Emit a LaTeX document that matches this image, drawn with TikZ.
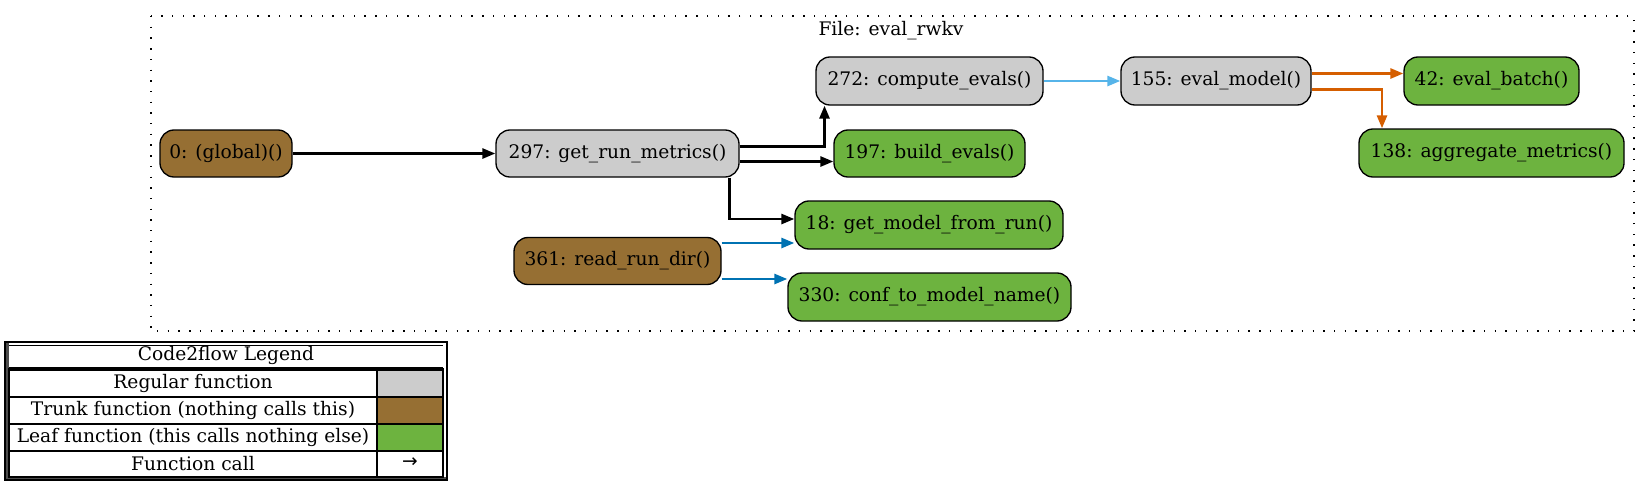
\documentclass[tikz,border=0pt]{standalone}
\usepackage{fontspec}
\setmainfont{DejaVu Serif}
\newfontfamily\symfont{DejaVu Sans}
\usetikzlibrary{arrows.meta}
\definecolor{cregular}{HTML}{CCCCCC}
\definecolor{ctrunk}{HTML}{966F33}
\definecolor{cleaf}{HTML}{6DB33F}
\definecolor{cblue}{HTML}{0072B2}
\definecolor{clight}{HTML}{56B4E9}
\definecolor{corange}{HTML}{D55E00}
\newcommand{\fsz}{\fontsize{18.67pt}{22pt}\selectfont}
\tikzset{
  fn/.style={draw=black, line width=1.33pt, rounded corners=14pt, minimum height=47pt,
    inner sep=0pt, font=\fsz, anchor=center},
  fnreg/.style={fn, fill=cregular},
  fntrunk/.style={fn, fill=ctrunk},
  fnleaf/.style={fn, fill=cleaf},
  call/.style={line width=2.67pt, -{Triangle[length=13pt,width=10pt]}},
  lgtext/.style={font=\fsz, inner sep=0pt, anchor=center},
}
\begin{document}
\begin{tikzpicture}[x=1pt,y=-1pt]
\useasboundingbox (0,0) rectangle (1651,485);
% cluster
\draw[line width=1.33pt, dash pattern=on 1.4pt off 9.3pt] (151,16) rectangle (1634,331);
\node[lgtext] (title) at (891,31) {File: eval\_rwkv};
% nodes
\node[fntrunk, minimum width=132pt] (n0) at (226,153.5) {0: (global)()};
\node[fnreg, minimum width=243pt] (n297) at (617.5,153.5) {297: get\_run\_metrics()};
\node[fntrunk, minimum width=207pt] (n361) at (617.5,261) {361: read\_run\_dir()};
\node[fnreg, minimum width=227pt, minimum height=48pt] (n272) at (929.5,81) {272: compute\_evals()};
\node[fnleaf, minimum width=191pt] (n197) at (929.5,153.5) {197: build\_evals()};
\node[fnleaf, minimum width=268pt, minimum height=48pt] (n18) at (929,225) {18: get\_model\_from\_run()};
\node[fnleaf, minimum width=283pt, minimum height=48pt] (n330) at (929.5,297) {330: conf\_to\_model\_name()};
\node[fnreg, minimum width=190pt, minimum height=48pt] (n155) at (1216,81) {155: eval\_model()};
\node[fnleaf, minimum width=175pt, minimum height=48pt] (n42) at (1491.5,81) {42: eval\_batch()};
\node[fnleaf, minimum width=265pt, minimum height=48pt] (n138) at (1491.5,153) {138: aggregate\_metrics()};
% edges
\draw[call] (n0.east) -- (n297.west);
\draw[call] ([yshift=7pt]n297.east) -| ([xshift=-105pt]n272.south);
\draw[call] ([yshift=-8pt]n297.east) -- ([yshift=-8pt]n197.west);
\draw[call] ([xshift=112pt]n297.south) |- ([yshift=6pt]n18.west);
\draw[call, cblue] ([yshift=18pt]n361.east) -- ([yshift=-18pt]n18.west);
\draw[call, cblue] ([yshift=-18pt]n361.east) -- ([yshift=18pt]n330.west);
\draw[call, clight] (n272.east) -- (n155.west);
\draw[call, corange] ([yshift=7.5pt]n155.east) -- ([yshift=7.5pt]n42.west);
\draw[call, corange] ([yshift=-8.5pt]n155.east) -| ([xshift=-109.5pt]n138.north);
% legend
\fill[black!70] (5,342) rectangle (9,480);
\fill[black!70] (5,477) rectangle (447,480);
\draw[line width=1.33pt] (5,342) rectangle (447,480);
\draw[line width=1.0pt] (9,345) -- (443,345);
\draw[line width=1.0pt] (9,367) -- (443,367);
\node[lgtext] (lgtitle) at (226,355) {Code2flow Legend};
\fill[cregular] (377,370) rectangle (443,397);
\fill[ctrunk] (377,397) rectangle (443,424);
\fill[cleaf] (377,424) rectangle (443,451);
\draw[line width=2.5pt] (9,369.5) rectangle (443,477);
\draw[line width=1.33pt] (9,397) -- (443,397);
\draw[line width=1.33pt] (9,424) -- (443,424);
\draw[line width=1.33pt] (9,451) -- (443,451);
\draw[line width=1.33pt] (377,369.5) -- (377,477);
\node[lgtext] (lgreg) at (193,383.5) {Regular function};
\node[lgtext] (lgtrunk) at (193,410.5) {Trunk function (nothing calls this)};
\node[lgtext] (lgleaf) at (193,437.5) {Leaf function (this calls nothing else)};
\node[lgtext] (lgcall) at (193,464) {Function call};
\node[lgtext, font=\fsz\symfont] (lgarrow) at (410,463) {→};
\end{tikzpicture}
\end{document}
